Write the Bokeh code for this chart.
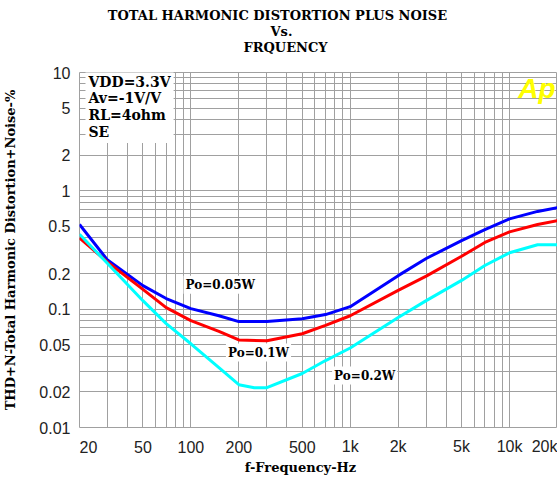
from bokeh.plotting import figure
from bokeh.layouts import column
from bokeh.models import FixedTicker, Label, LabelSet, ColumnDataSource, Range1d
from bokeh.core.properties import value
from bokeh.embed import file_html
from bokeh.resources import INLINE

# ---- data ----
freq = [20, 30, 50, 70, 100, 150, 200, 300, 500, 700, 1000, 2000, 3000, 5000, 7000, 10000, 15000, 20000]
thd_p005 = [0.52, 0.26, 0.158, 0.123, 0.101, 0.088, 0.0785, 0.0785, 0.083, 0.090, 0.105, 0.192, 0.268, 0.38, 0.47, 0.58, 0.67, 0.72]
thd_p01 = [0.40, 0.25, 0.147, 0.103, 0.080, 0.065, 0.055, 0.054, 0.062, 0.073, 0.088, 0.144, 0.19, 0.28, 0.366, 0.45, 0.52, 0.56]
freq_p02 = [20, 30, 50, 70, 100, 150, 200, 250, 300, 500, 700, 1000, 2000, 3000, 5000, 7000, 10000, 15000, 20000]
thd_p02 = [0.43, 0.243, 0.118, 0.0755, 0.051, 0.032, 0.023, 0.0217, 0.0217, 0.0286, 0.0368, 0.047, 0.085, 0.118, 0.175, 0.234, 0.30, 0.35, 0.35]

x_ticks = [20, 50, 100, 200, 500, 1000, 2000, 5000, 10000, 20000]
x_tick_labels = ["20", "50", "100", "200", "500", "1k", "2k", "5k", "10k", "20k"]
y_ticks = [0.01, 0.02, 0.05, 0.1, 0.2, 0.5, 1, 2, 5, 10]
y_tick_labels = ["0.01", "0.02", "0.05", "0.1", "0.2", "0.5", "1", "2", "5", "10"]

x_grid = [20, 30, 40, 50, 60, 70, 80, 90,
          100, 200, 300, 400, 500, 600, 700, 800, 900,
          1000, 2000, 3000, 4000, 5000, 6000, 7000, 8000, 9000,
          10000, 20000]
y_grid = [0.01, 0.02, 0.03, 0.04, 0.05, 0.06, 0.07, 0.08, 0.09,
          0.1, 0.2, 0.3, 0.4, 0.5, 0.6, 0.7, 0.8, 0.9,
          1, 2, 3, 4, 5, 6, 7, 8, 9, 10]

title_lines = ["TOTAL HARMONIC DISTORTION PLUS NOISE", "Vs.", "FRQUENCY"]
conditions = "VDD=3.3V\nAv=-1V/V\nRL=4ohm\nSE"

SERIF = "DejaVu Serif"
SANS = "Liberation Sans"
GRID = "#a0a0a0"
W = 557
LEFT = 75


def lab(fig, text, x, y, units="screen", align="left", baseline="middle", size="13px",
        bg=None, pad=0, font=SERIF, style="bold", color="black", **kw):
    fig.add_layout(Label(text=text, x=x, y=y, x_units=units, y_units=units,
                         text_align=align, text_baseline=baseline,
                         text_font=font, text_font_size=size,
                         text_font_style=style, text_color=color,
                         background_fill_color=bg, padding=pad, **kw))


def bare(fig):
    fig.outline_line_color = None
    fig.grid.visible = False
    fig.background_fill_color = "white"
    fig.border_fill_color = "white"


# ---------------- title strip (frame aligned with the chart's frame) ----------------
top = figure(width=W, height=62, output_backend="svg", toolbar_location=None,
             x_range=Range1d(0, 1), y_range=Range1d(0, 1),
             x_axis_location=None, y_axis_location=None,
             min_border_left=LEFT, min_border_right=0, min_border_top=0, min_border_bottom=0)
bare(top)
lab(top, title_lines[0], 198, 47, align="center")
lab(top, title_lines[1], 202, 31, align="center")
lab(top, title_lines[2], 206, 15, align="center")

# ---------------- main chart ----------------
p = figure(width=W, height=374, output_backend="svg", toolbar_location=None,
           x_axis_type="log", y_axis_type="log",
           x_range=Range1d(20, 20000), y_range=Range1d(0.01, 10),
           min_border_left=LEFT, min_border_right=0, min_border_top=10, min_border_bottom=9)
p.background_fill_color = "white"
p.border_fill_color = "white"
p.outline_line_color = GRID
p.outline_line_width = 1

p.xaxis.visible = False

p.yaxis.ticker = FixedTicker(ticks=y_ticks)
p.yaxis.major_label_overrides = {t: s for t, s in zip(y_ticks, y_tick_labels)}
p.yaxis.axis_line_color = None
p.yaxis.major_tick_line_color = None
p.yaxis.minor_tick_line_color = None
p.yaxis.major_label_standoff = 3
p.yaxis.major_label_text_font = SANS
p.yaxis.major_label_text_font_size = "16px"
p.yaxis.major_label_text_color = "#222222"
p.yaxis.axis_label = "THD+N-Total Harmonic Distortion+Noise-%"
p.yaxis.axis_label_text_font = SERIF
p.yaxis.axis_label_text_font_style = "bold"
p.yaxis.axis_label_text_font_size = "13px"
p.yaxis.axis_label_text_color = "black"
p.yaxis.axis_label_standoff = 18

p.xgrid.ticker = FixedTicker(ticks=x_grid)
p.ygrid.ticker = FixedTicker(ticks=y_grid)
for g in (p.xgrid, p.ygrid):
    g.grid_line_color = GRID
    g.grid_line_width = 1
    g.grid_line_alpha = 1.0

p.line(freq, thd_p005, line_color="#0000FF", line_width=3)
p.line(freq, thd_p01, line_color="#FF0000", line_width=3)
p.line(freq_p02, thd_p02, line_color="#00FFFF", line_width=3)

# condition box (screen units: pixels from the frame's bottom-left)
lab(p, conditions, 6, 357, baseline="top", bg="white", pad=3,
    size="14px", text_line_height=1.05)
# logo
lab(p, "Ap", 476, 355, align="right", baseline="top", size="28px",
    font=SANS, style="bold italic", color="#FFFF00")
# curve labels
lab(p, "Po=0.05W", 90, 0.161, units="data", bg="white", pad=2, size="12px")
lab(p, "Po=0.1W", 166, 0.043, units="data", bg="white", pad=2, size="12px")
lab(p, "Po=0.2W", 770, 0.0275, units="data", bg="white", pad=2, size="12px")

# ---------------- x tick labels + x title strip (shares the x scale) ----------------
bot = figure(width=W, height=45, output_backend="svg", toolbar_location=None,
             x_axis_type="log", x_range=p.x_range, y_range=Range1d(0, 1),
             x_axis_location=None, y_axis_location=None,
             min_border_left=LEFT, min_border_right=0, min_border_top=0, min_border_bottom=0)
bare(bot)
aligns = ["left"] + ["center"] * (len(x_ticks) - 2) + ["right"]
xsrc = ColumnDataSource(dict(x=x_ticks, text=x_tick_labels, align=aligns))
bot.add_layout(LabelSet(x="x", y=35, x_units="data", y_units="screen", text="text",
                        source=xsrc, text_align="align", text_baseline="middle",
                        text_font=value(SANS), text_font_size="16px",
                        text_color="#222222"))
lab(bot, "f-Frequency-Hz", 221, 14, align="center")

layout = column(top, p, bot, spacing=0)
open("out.html", "w").write(file_html(layout, INLINE))
